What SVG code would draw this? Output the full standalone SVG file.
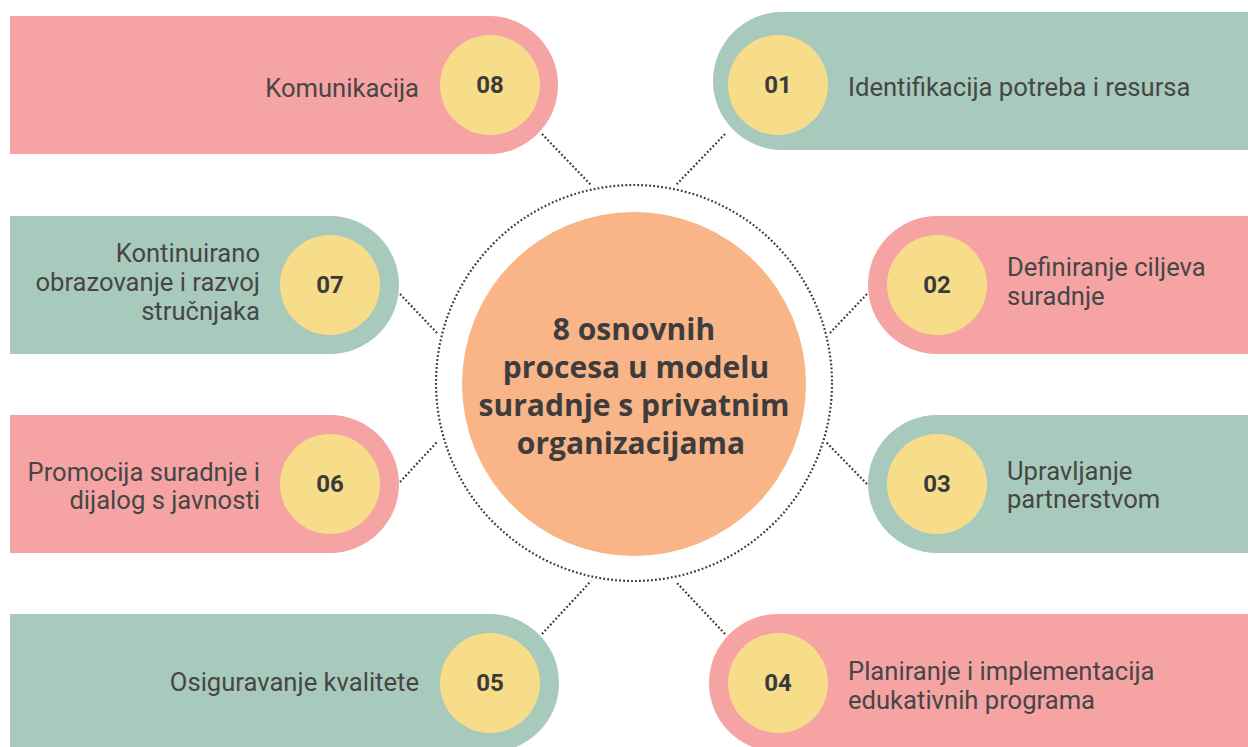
<svg xmlns="http://www.w3.org/2000/svg" width="1248" height="747" viewBox="0 0 1248 747">
<style>
.pink{fill:#F6A3A4}
.green{fill:#A8CABD}
.dot{fill:#F7DD8A}
.num{font-family:Roboto,"Liberation Sans",sans-serif;font-weight:bold;font-size:24px;fill:#3a3a3a;text-anchor:middle}
.lbl{font-family:Roboto,"Liberation Sans",sans-serif;font-size:25.6px;fill:#464646}
.r{text-anchor:end}
.title{font-family:"Open Sans","Liberation Sans",sans-serif;font-weight:bold;font-size:30px;fill:#3d3d3d;text-anchor:middle}
.dl{fill:none;stroke:#3a3a3a;stroke-width:2.2;stroke-dasharray:1.8 2.2}
</style>
<rect width="1248" height="747" fill="#ffffff"/>
<g id="connectors">
<circle class="dl" cx="634" cy="383" r="198"/>
<line class="dl" x1="542" y1="134" x2="591" y2="185"/>
<line class="dl" x1="725" y1="134" x2="676" y2="185"/>
<line class="dl" x1="400" y1="294" x2="438" y2="334"/>
<line class="dl" x1="867" y1="294" x2="829" y2="334"/>
<line class="dl" x1="400" y1="482" x2="438" y2="441"/>
<line class="dl" x1="867" y1="484" x2="826" y2="442"/>
<line class="dl" x1="542" y1="634" x2="591" y2="581"/>
<line class="dl" x1="725" y1="634" x2="676" y2="582"/>
</g>
<g id="center">
<circle cx="634" cy="384" r="172" fill="#F9B487"/>
<text class="title" x="634" y="340">8 osnovnih</text>
<text class="title" x="636" y="378">procesa u modelu</text>
<text class="title" x="634" y="416">suradnje s privatnim</text>
<text class="title" x="631" y="454">organizacijama</text>
</g>
<g id="node08">
<path class="pink" d="M10,16 H489 A69,69 0 0 1 489,154 H10 Z"/>
<circle class="dot" cx="490" cy="85" r="50"/>
<text class="num" x="490" y="93">08</text>
<text class="lbl r" x="419" y="97">Komunikacija</text>
</g>
<g id="node07">
<path class="green" d="M10,216 H330 A69,69 0 0 1 330,354 H10 Z"/>
<circle class="dot" cx="330" cy="285" r="50"/>
<text class="num" x="330" y="293">07</text>
<text class="lbl r" x="260" y="262">Kontinuirano</text>
<text class="lbl r" x="260" y="291">obrazovanje i razvoj</text>
<text class="lbl r" x="260" y="320">stručnjaka</text>
</g>
<g id="node06">
<path class="pink" d="M10,415 H330 A69,69 0 0 1 330,553 H10 Z"/>
<circle class="dot" cx="330" cy="484" r="50"/>
<text class="num" x="330" y="492">06</text>
<text class="lbl r" x="260" y="481">Promocija suradnje i</text>
<text class="lbl r" x="260" y="509">dijalog s javnosti</text>
</g>
<g id="node05">
<path class="green" d="M10,614 H490 A69,69 0 0 1 490,752 H10 Z"/>
<circle class="dot" cx="490" cy="683" r="50"/>
<text class="num" x="490" y="691">05</text>
<text class="lbl r" x="419" y="691">Osiguravanje kvalitete</text>
</g>
<g id="node01">
<path class="green" d="M1248,12 H782 A69,69 0 0 0 782,150 H1248 Z"/>
<circle class="dot" cx="778" cy="85" r="50"/>
<text class="num" x="778" y="93">01</text>
<text class="lbl" x="848" y="96">Identifikacija potreba i resursa</text>
</g>
<g id="node02">
<path class="pink" d="M1248,216 H937 A69,69 0 0 0 937,354 H1248 Z"/>
<circle class="dot" cx="937" cy="285" r="50"/>
<text class="num" x="937" y="293">02</text>
<text class="lbl" x="1007" y="276">Definiranje ciljeva</text>
<text class="lbl" x="1007" y="305">suradnje</text>
</g>
<g id="node03">
<path class="green" d="M1248,415 H937 A69,69 0 0 0 937,553 H1248 Z"/>
<circle class="dot" cx="937" cy="484" r="50"/>
<text class="num" x="937" y="492">03</text>
<text class="lbl" x="1007" y="480">Upravljanje</text>
<text class="lbl" x="1007" y="508">partnerstvom</text>
</g>
<g id="node04">
<path class="pink" d="M1248,614 H778 A69,69 0 0 0 778,752 H1248 Z"/>
<circle class="dot" cx="778" cy="683" r="50"/>
<text class="num" x="778" y="691">04</text>
<text class="lbl" x="848" y="680">Planiranje i implementacija</text>
<text class="lbl" x="848" y="709">edukativnih programa</text>
</g>
</svg>
